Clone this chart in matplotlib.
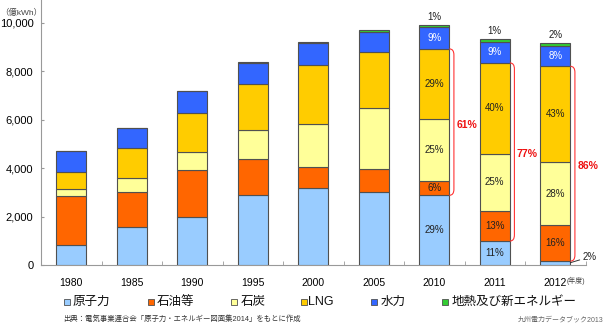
import matplotlib
matplotlib.use('Agg')
import matplotlib.pyplot as plt
from matplotlib.path import Path
from matplotlib.patches import PathPatch, Rectangle
import numpy as np

plt.rcParams['font.family'] = ['Liberation Sans', 'Noto Sans CJK JP', 'DejaVu Sans']

# data (億kWh)
years = ['1980', '1985', '1990', '1995', '2000', '2005', '2010', '2011', '2012']
nuclear = [820, 1590, 2000, 2880, 3190, 3020, 2880, 990, 160]
oil = [2040, 1410, 1930, 1510, 870, 930, 600, 1240, 1490]
coal = [270, 580, 730, 1180, 1750, 2520, 2540, 2370, 2590]
lng = [730, 1240, 1630, 1900, 2440, 2330, 2910, 3750, 3970]
hydro = [850, 840, 910, 890, 930, 830, 910, 870, 830]
geo = [0, 0, 0, 30, 30, 80, 90, 110, 140]

names = ['原子力', '石油等', '石炭', 'LNG', '水力', '地熱及び新エネルギー']
colors = ['#99CCFF', '#FF6600', '#FFFF99', '#FFCC00', '#3366FF', '#33CC33']

# share labels for 2010, 2011, 2012
pct_years = [6, 7, 8]
pct_nuclear = ['29%', '11%', '2%']
pct_oil = ['6%', '13%', '16%']
pct_coal = ['25%', '25%', '28%']
pct_lng = ['29%', '40%', '43%']
pct_hydro = ['9%', '9%', '8%']
pct_geo = ['1%', '1%', '2%']
pct_fossil = ['61%', '77%', '86%']

fig = plt.figure(figsize=(6.06, 3.24), dpi=100)
ax = fig.add_axes([41/606, 59/324, 544.5/606, 265/324])

x = np.arange(len(years))
w = 0.5
series = [nuclear, oil, coal, lng, hydro, geo]
bottom = np.zeros(len(years))
bottoms = []
for vals, c in zip(series, colors):
    bottoms.append(bottom.copy())
    ax.bar(x, vals, w, bottom=bottom, color=c, edgecolor='#505050', linewidth=0.8, zorder=3)
    bottom = bottom + np.array(vals)
tops = bottom

ax.set_xlim(-0.5, len(years) - 0.5)
ax.set_ylim(0, 10950)
ax.set_yticks([0, 2000, 4000, 6000, 8000, 10000])
ax.set_yticklabels(['0', '2,000', '4,000', '6,000', '8,000', '10,000'], fontsize=8)
ax.set_xticks(x)
ax.set_xticklabels(years, fontsize=7.5)
ax.set_xticks(np.arange(len(years)) + 0.5, minor=True)
ax.tick_params(axis='x', which='major', length=0, pad=9)
ax.tick_params(axis='x', which='minor', direction='in', length=3, color='#999999')
ax.tick_params(axis='y', direction='in', length=2, color='#999999', pad=5.5)
for s in ['top', 'right']:
    ax.spines[s].set_visible(False)
for s in ['left', 'bottom']:
    ax.spines[s].set_color('#999999')
    ax.spines[s].set_linewidth(0.8)

# percent labels inside bars
seg_pcts = [pct_nuclear, pct_oil, pct_coal, pct_lng, pct_hydro]
for k, i in enumerate(pct_years):
    for s, pcts in enumerate(seg_pcts):
        if s == 0 and i == 8:
            continue
        yc = bottoms[s][i] + series[s][i] / 2
        col = 'white' if s == 4 else '#222222'
        ax.text(i, yc, pcts[k], ha='center', va='center', fontsize=7, color=col, zorder=5)
    ax.text(i, tops[i] + 120, pct_geo[k], ha='center', va='bottom', fontsize=7, color='#222222')

# 2012 nuclear label with leader line
ax.annotate(pct_nuclear[2], xy=(8 + w/2, nuclear[8] * 0.6), xytext=(8.45, 330),
            fontsize=7, color='#222222', ha='left', va='center',
            arrowprops=dict(arrowstyle='-', color='#333333', lw=0.7, shrinkA=0, shrinkB=0))

# red brackets for fossil share
for k, i in enumerate(pct_years):
    y0 = bottoms[1][i]
    y1 = bottoms[4][i]
    xr = i + w/2
    xb = xr + 0.075
    r = 250
    verts = [(xr, y1), (xb, y1), (xb, y1 - r), (xb, y0 + r), (xb, y0), (xr, y0)]
    codes = [Path.MOVETO, Path.CURVE3, Path.CURVE3, Path.LINETO, Path.CURVE3, Path.CURVE3]
    ax.add_patch(PathPatch(Path(verts, codes), fill=False, edgecolor='#FF3333', lw=0.8, zorder=4))
    ax.text(xb + 0.04, (y0 + y1) / 2 - 100, pct_fossil[k], ha='left', va='center',
            fontsize=7.5, color='#EE1111', fontweight='bold')

fig.text(0 / 606, 1 - 12.5/324, '（億kWh）', fontsize=6, color='#444444', va='center', ha='left')
fig.text(567/606, 1 - 281/324, '(年度)', fontsize=5, color='#444444', va='center', ha='left')

# legend
sq_x = [64, 148, 231, 301, 371, 442]
tx_x = [73, 157, 241, 308, 381, 452]
for n, c, sx, tx in zip(names, colors, sq_x, tx_x):
    fig.patches.append(Rectangle((sx/606, 1 - 305/324), 6/606, 6/324, transform=fig.transFigure,
                                 facecolor=c, edgecolor='#505050', linewidth=0.6))
    fig.text(tx/606, 1 - 302/324, n, fontsize=9, va='center', ha='left', color='#111111')

fig.text(63/606, 1 - 319/324, '出典：電気事業連合会「原子力・エネルギー図面集2014」をもとに作成',
         fontsize=5.3, va='center', ha='left', color='#333333')
fig.text(518/606, 1 - 319.5/324, '九州電力データブック2013', fontsize=5, va='center', ha='left', color='#666666')

fig.savefig('out.png', dpi=100)
